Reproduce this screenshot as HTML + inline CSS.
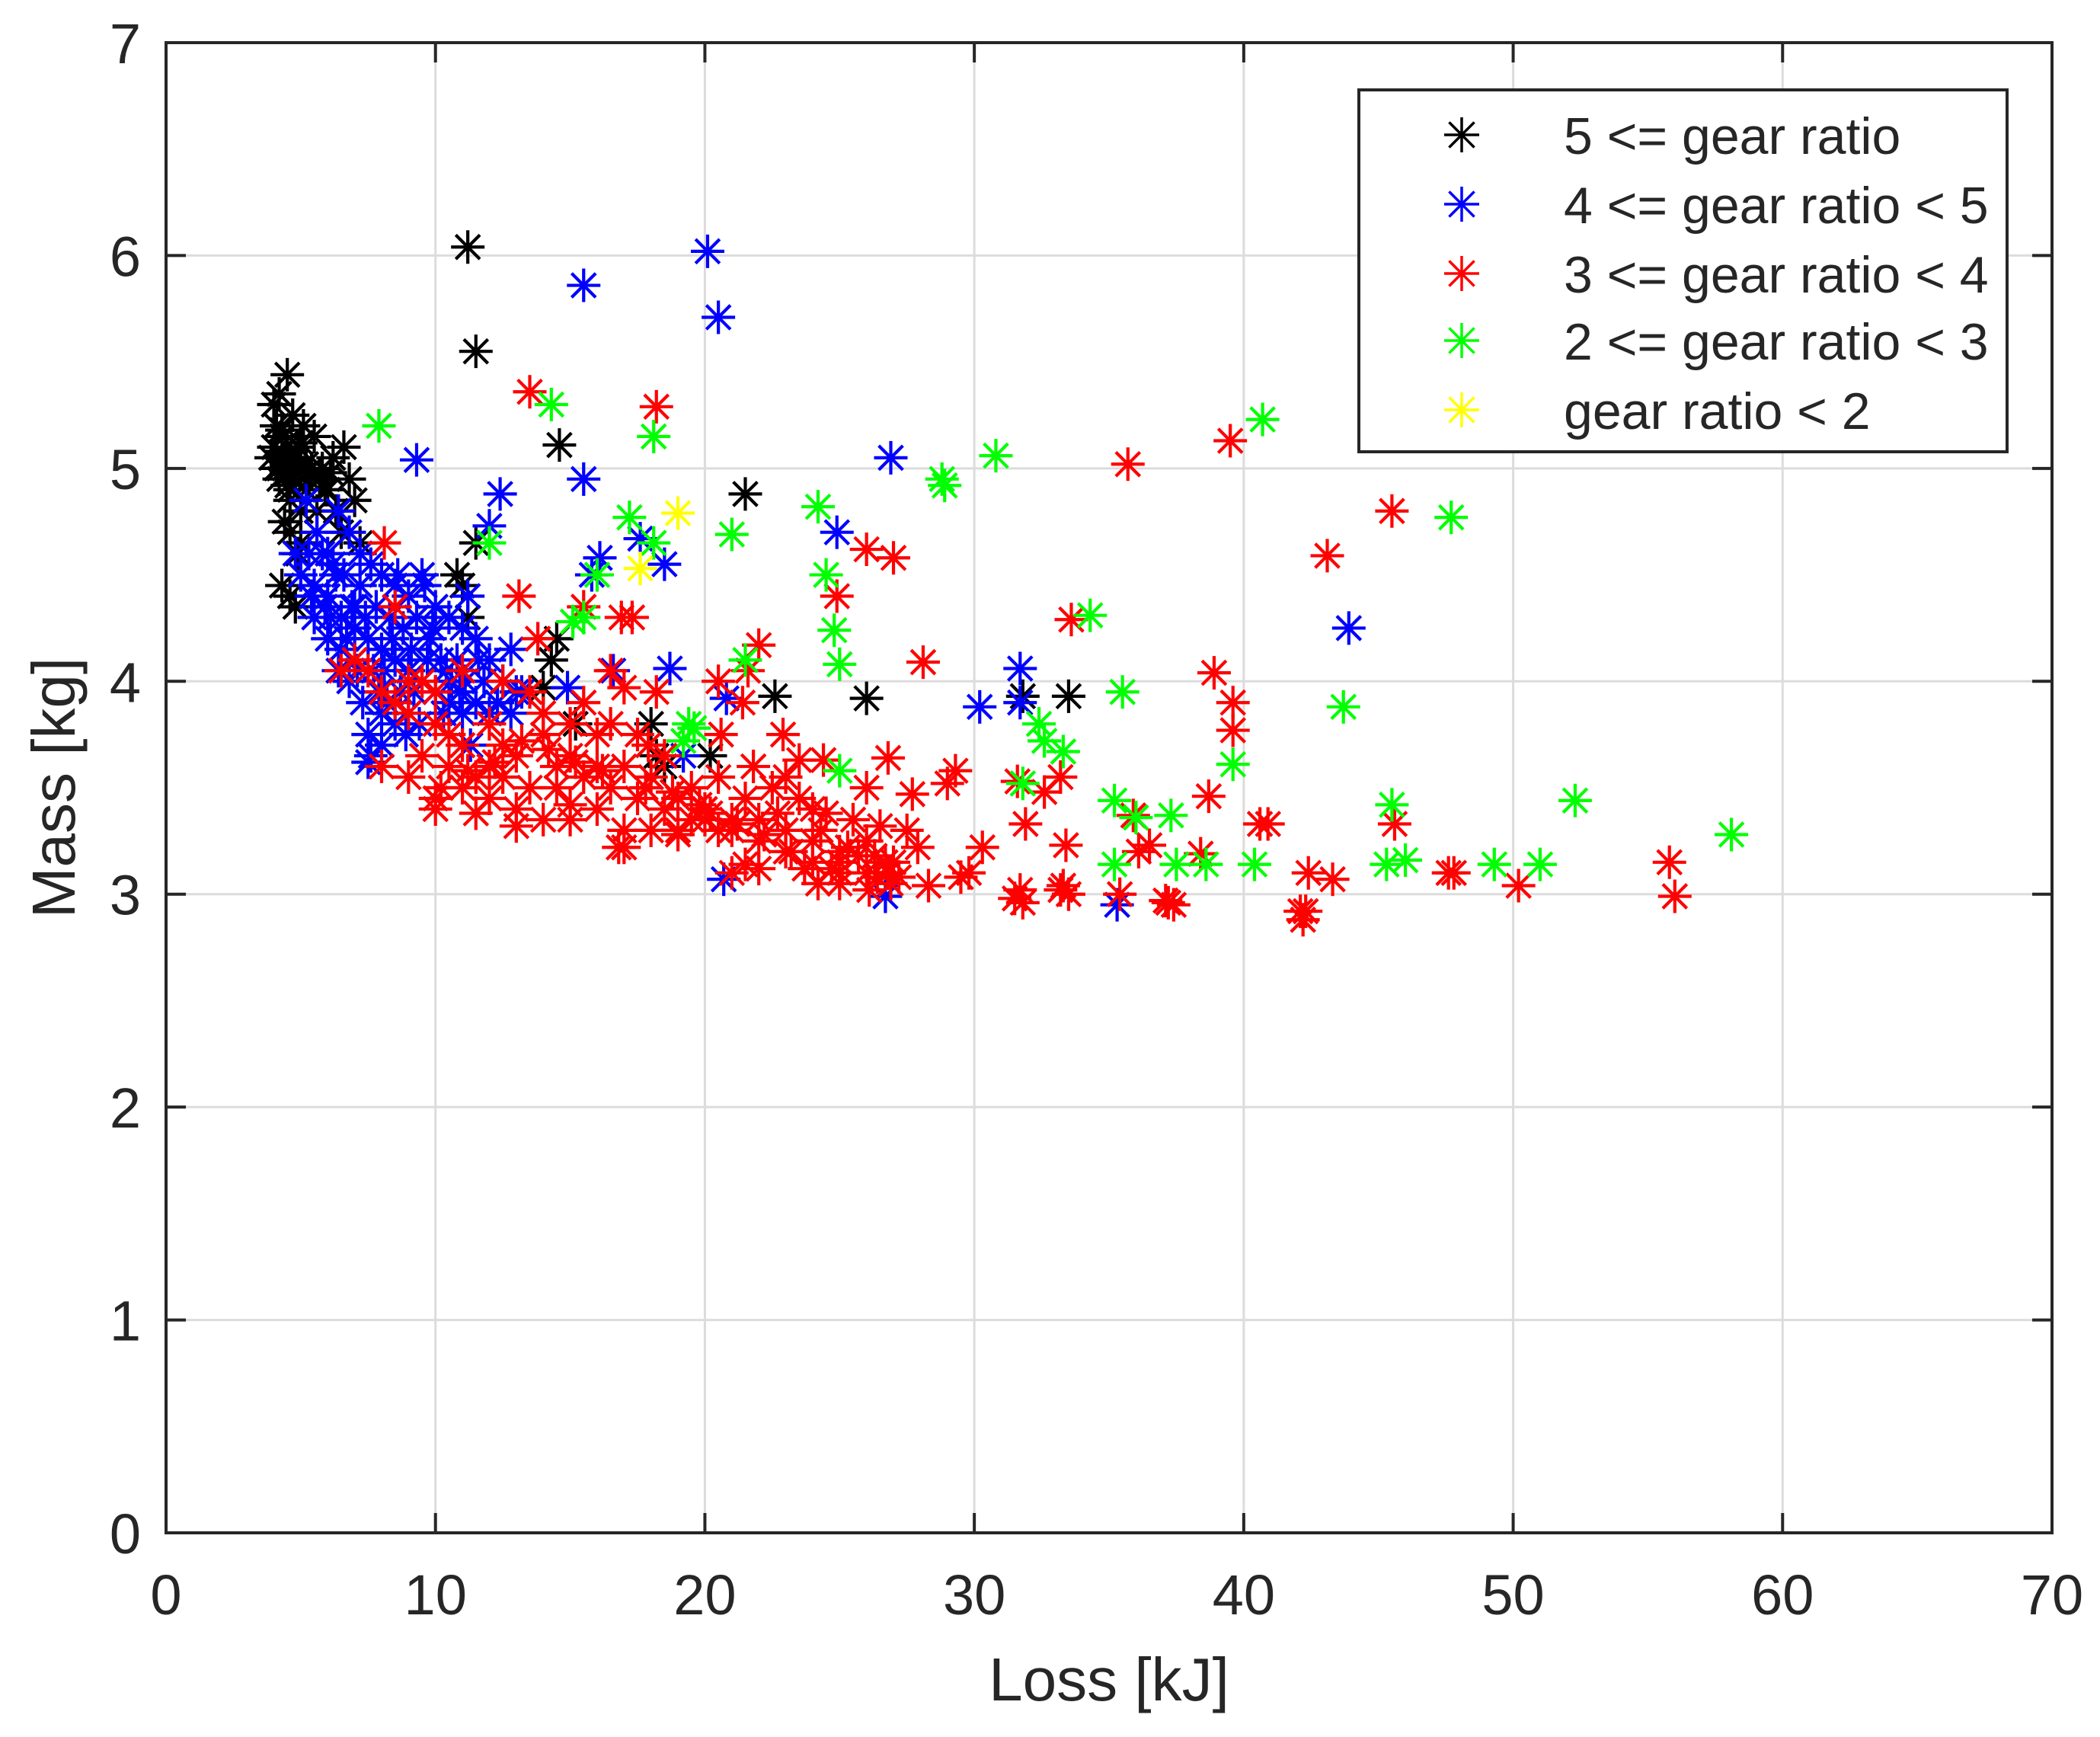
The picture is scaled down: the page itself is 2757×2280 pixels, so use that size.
<!DOCTYPE html>
<html><head><meta charset="utf-8">
<style>
html,body{margin:0;padding:0;background:#fff;}
svg{display:block;}
text{font-family:"Liberation Sans",Arial,sans-serif;fill:#262626;}
</style></head>
<body>
<svg id="chart" width="2757" height="2280" viewBox="0 0 2757 2280" xmlns="http://www.w3.org/2000/svg">
<rect x="0" y="0" width="2757" height="2280" fill="#fff"/>
<g id="grid"></g>
<g id="marks"></g>
<g id="axes"></g>
<text x="1456" y="2232" font-size="80" text-anchor="middle">Loss [kJ]</text>
<text x="0" y="0" font-size="80" text-anchor="middle" transform="translate(98,1034) rotate(-90)">Mass [kg]</text>
<g id="legend"></g>
</svg>
<script>
const xTicks=[0,10,20,30,40,50,60,70];
const yTicks=[0,1,2,3,4,5,6,7];
const seriesNames=["5 <= gear ratio","4 <= gear ratio < 5","3 <= gear ratio < 4","2 <= gear ratio < 3","gear ratio < 2"];
const seriesColors=["#000000","#0000ff","#ff0000","#00ff00","#ffff00"];
const blackX=[11.2,11.5,14.6,21.5,11.5,10.8,11.2,14.5,14.3,22.6,26,31.8,33.5,18,18.2,20.2,18.5,14,15.2,11,4.5,4.2,4,4.1,4.3,4,4.5,4.8,5,4.2,4.6,5.5,5.8,6.2,6.6,6.8,7,4.4,4.6,5,5.2,4.3,4.6,4.8,4.9,5.6,6,3.9,4.7,5.1,5.3,6.5,7.2,4.4,4.9,5.4,4.1,4.6,5.9,6.3,5.0,4.3,4.2,4.4,4.7,5.0,4.5,4.3,4.8,5.2,5.7,6.1];
const blackY=[6.04,5.55,5.11,4.88,4.65,4.5,4.3,4.2,4.1,3.93,3.92,3.93,3.93,3.8,3.65,3.65,3.6,3.97,3.8,4.45,5.44,5.35,5.3,5.2,5.15,5.1,5.1,5.05,5,4.95,4.9,5.15,5.0,5.05,5.1,4.95,4.85,4.75,4.7,4.65,4.9,4.45,4.4,4.35,4.6,4.8,4.9,5.05,5.25,5.2,4.95,4.7,4.65,5.0,5.1,5.0,5.0,4.85,4.9,4.8,4.8,5.08,5.0,5.05,5.0,5.12,4.92,5.18,4.98,5.02,4.95,4.98];
const blueX=[20.1,15.5,20.5,9.3,15.5,12.4,26.9,24.9,12,17.6,16.1,18.5,15.8,43.9,18.7,31.7,30.2,31.7,20.8,19.2,20.7,26.7,35.3,16.6,14.9,13.2,5.2,5.6,6,6.4,6.8,7.2,7.6,8,8.5,9,9.5,10,10.5,11,11.5,12,12.5,13,5,5.5,6,6.5,7,7.5,8,8.5,9,9.5,10,10.5,11,11.5,12,5.5,6,6.5,7,7.5,7.6,8,8.5,9,4.8,6.2,7.8,8.8,9.8,10.8,11.8,7.2,8.3,9.3,10.2,6.8,7.3,8.2,9.2,12.8,11.3,10.3,9.6,7.5,8.6,6.4,5.8,12.3,12.8,11.2,6.6,7.9,8.9,10.6,9.9,7.0,8.1,5.4,5.9,6.3,6.9,7.4,8.4,9.1,9.7,10.4,11.1,6.7,7.7,8.7,7.1,6.1,5.3,8.0,9.4,10.9,11.6];
const blueY=[6.02,5.86,5.71,5.04,4.95,4.88,5.05,4.7,4.73,4.67,4.58,4.55,4.5,4.25,4.06,4.06,3.88,3.9,3.92,3.65,3.07,2.99,2.95,4.05,3.97,3.95,4.85,4.7,4.6,4.8,4.7,4.6,4.55,4.5,4.45,4.4,4.5,4.35,4.3,4.25,4.2,4.1,4.0,3.95,4.5,4.45,4.4,4.3,4.25,4.2,4.15,4.1,4.05,4.0,3.95,3.9,3.85,3.9,3.85,4.3,4.2,4.15,4.1,3.75,3.65,3.7,3.8,3.85,4.6,4.55,4.35,4.25,4.2,4.1,4.0,4.45,4.3,4.3,4.1,4.0,3.9,3.9,3.95,4.15,3.7,3.85,4.45,3.62,4.5,4.05,4.6,3.9,3.85,4.4,4.5,3.95,3.75,4.0,4.25,4.35,4.05,4.4,4.35,4.5,4.35,4.3,4.2,4.15,4.1,4.05,4.0,4.2,4.05,3.95,4.05,4.3,4.6,3.85,3.8,3.95,4.1];
const redX=[13.5,18.2,35.7,39.5,45.5,43.1,26,27,24.9,33.6,28.1,38.9,39.6,39.6,8.1,8.5,13.1,16.9,17.3,22,21.6,16.5,15.5,13.8,26.8,29.3,29,27.7,31.6,32.6,33.2,35.9,36.1,31.9,33.4,38.7,38.4,40.6,40.9,45.6,42.4,43.3,47.6,47.8,50.2,55.8,56,42.1,42.2,37.1,37.4,35.4,33.2,33.5,31.5,31.8,29.5,29.8,30.3,27.9,28.3,26.8,26.9,25,24.2,22,21.5,23.5,24.4,21.8,22.9,20.6,20.5,21.4,18.2,17,17.9,36.5,6.5,7,7.5,8,8.5,9,9.5,10,10.5,11,12,12.5,13,14,15,16,17,18,19,20,21,22,23,24,25,26,8,9,10,11,12,13,14,15,16,17,18,19,20,21,22,23,24,25,26,27,9.5,10.5,11.5,12.5,13.5,14.5,15.5,16.5,17.5,18.5,19.5,20.5,10,11.5,13,15,17,19,23.5,25.5,24.5,26.5,22.5,14,15.5,16.5,13.5,12.5,11,9,15,16,17.5,18.5,10,14.5,12,19.5,20.5,21.5,26,27.5,23,24,25,21,16.8,31.7,33.3,37.2,42.3,26.7,20.2,21.2,22.2,23.2,24.7,25.7,26.4,19.8,18.8,17.8,16.2,15.2,14.2,13.2,12.2,11.2,10.2,24.3,25.3,26.3,22.7,23.7,27.2,26.1];
const redY=[5.36,5.29,5.02,5.13,4.8,4.59,4.62,4.58,4.4,4.29,4.09,4.04,3.9,3.77,4.65,4.35,4.4,4.3,4.3,4.17,4.05,4.05,4.35,4.2,3.64,3.58,3.52,3.47,3.53,3.48,3.55,3.37,3.2,3.33,3.23,3.46,3.19,3.33,3.33,3.33,3.1,3.07,3.1,3.1,3.04,3.15,2.99,2.92,2.88,2.97,2.95,3.0,3.02,3.0,2.98,2.96,3.08,3.1,3.22,3.22,3.04,3.1,3.05,3.1,3.05,3.12,3.14,3.63,3.63,3.6,3.75,3.75,4.0,3.9,3.95,3.97,3.7,3.23,4.05,4.1,4.05,3.95,3.9,3.85,4.0,3.8,3.75,3.7,3.8,3.7,3.65,3.75,3.8,3.75,3.6,3.55,3.45,3.4,3.35,3.35,3.3,3.25,3.2,3.25,3.6,3.55,3.45,3.5,3.45,3.4,3.35,3.35,3.4,3.3,3.3,3.3,3.35,3.3,3.25,3.2,3.15,3.15,3.1,3.15,3.65,3.6,3.55,3.55,3.5,3.5,3.55,3.5,3.45,3.4,3.35,3.3,3.4,3.38,3.32,3.42,3.22,3.28,3.45,3.35,3.38,3.32,3.5,3.85,3.9,3.8,3.95,4.0,4.05,4.0,3.65,3.6,3.75,3.65,3.95,3.6,3.6,3.5,3.55,3.45,3.5,3.3,3.55,3.4,3.05,3.1,3.22,3.02,3.04,2.96,2.92,3.15,3.38,3.33,3.28,3.2,3.12,3.18,3.08,3.42,3.48,3.5,3.58,3.62,3.68,3.72,3.62,3.58,3.5,3.3,3.22,3.18,3.38,3.12,3.08,3.02];
const greenX=[7.9,14.3,18.1,12,17.2,18.1,21,24.2,28.8,28.9,30.8,40.7,47.7,24.5,24.8,25,15.5,15.1,16,21.5,19.4,19.6,19.2,25,32.4,32.6,33.3,34.3,35.5,43.7,39.6,35.2,37.3,36,31.8,45.5,52.3,58.1,35.2,37.5,38.6,40.4,45.3,46,49.3,51];
const greenY=[5.2,5.3,5.15,4.65,4.77,4.65,4.69,4.82,4.95,4.92,5.06,5.23,4.77,4.5,4.24,4.08,4.3,4.28,4.5,4.1,3.8,3.78,3.72,3.58,3.8,3.72,3.67,4.31,3.95,3.88,3.61,3.44,3.37,3.36,3.52,3.42,3.44,3.28,3.14,3.14,3.14,3.14,3.14,3.16,3.14,3.14];
const yellowX=[19,17.6];
const yellowY=[4.79,4.53];

const L=218,R=2694,T=56,B=2012;
const xMin=0,xMax=70,yMin=0,yMax=7;
const sx=v=>L+(v-xMin)/(xMax-xMin)*(R-L);
const sy=v=>B-(v-yMin)/(yMax-yMin)*(B-T);
const NS="http://www.w3.org/2000/svg";
function mk(tag,attrs,parent){const e=document.createElementNS(NS,tag);for(const k in attrs)e.setAttribute(k,attrs[k]);parent.appendChild(e);return e;}

const grid=document.getElementById('grid');
xTicks.forEach(v=>{if(v>xMin&&v<xMax){const l=mk('line',{x1:sx(v),x2:sx(v),y1:T,y2:B,stroke:'#dcdcdc','stroke-width':3},grid);

}});
yTicks.forEach(v=>{if(v>yMin&&v<yMax){const l=mk('line',{x1:L,x2:R,y1:sy(v),y2:sy(v),stroke:'#dcdcdc','stroke-width':3},grid);

}});

function star(parent,cx,cy,h,color,w){
  const g=mk('g',{stroke:color,'stroke-width':w,fill:'none'},parent);
  const d=h*0.72;
  mk('line',{x1:cx-h,x2:cx+h,y1:cy,y2:cy},g);
  mk('line',{x1:cx,x2:cx,y1:cy-h,y2:cy+h},g);
  mk('line',{x1:cx-d,x2:cx+d,y1:cy-d,y2:cy+d},g);
  mk('line',{x1:cx-d,x2:cx+d,y1:cy+d,y2:cy-d},g);
  return g;
}
const marks=document.getElementById('marks');
const allX=[blackX,blueX,redX,greenX,yellowX];
const allY=[blackY,blueY,redY,greenY,yellowY];
allX.forEach((xs,si)=>{
  const sg=mk('g',{},marks);
  
  
  xs.forEach((x,i)=>{
    const p=star(sg,sx(x),sy(allY[si][i]),22,seriesColors[si],4.2);
    
    
  });
});

const axes=document.getElementById('axes');
mk('rect',{x:L,y:T,width:R-L,height:B-T,fill:'none',stroke:'#262626','stroke-width':4},axes);
xTicks.forEach(v=>{
  mk('line',{x1:sx(v),x2:sx(v),y1:B,y2:B-26,stroke:'#262626','stroke-width':4},axes);
  mk('line',{x1:sx(v),x2:sx(v),y1:T,y2:T+26,stroke:'#262626','stroke-width':4},axes);
  const t=mk('text',{x:sx(v),y:2119,'font-size':74,'text-anchor':'middle'},axes);
  t.textContent=v;
  
  
});
yTicks.forEach(v=>{
  mk('line',{x1:L,x2:L+26,y1:sy(v),y2:sy(v),stroke:'#262626','stroke-width':4},axes);
  mk('line',{x1:R,x2:R-26,y1:sy(v),y2:sy(v),stroke:'#262626','stroke-width':4},axes);
  const t=mk('text',{x:185,y:sy(v)+27,'font-size':74,'text-anchor':'end'},axes);
  t.textContent=v;
  
  
});

const legend=document.getElementById('legend');
mk('rect',{x:1784,y:118,width:851,height:475,fill:'#fff',stroke:'#262626','stroke-width':4},legend);
const rowsY=[177,268,359,447,538];
seriesNames.forEach((n,i)=>{
  const e=mk('g',{},legend);
  
  
  star(e,1919,rowsY[i],23,seriesColors[i],3.5);
  const t=mk('text',{x:2053,y:rowsY[i]+25,'font-size':68},e);
  t.textContent=n;
});
</script>
</body></html>
